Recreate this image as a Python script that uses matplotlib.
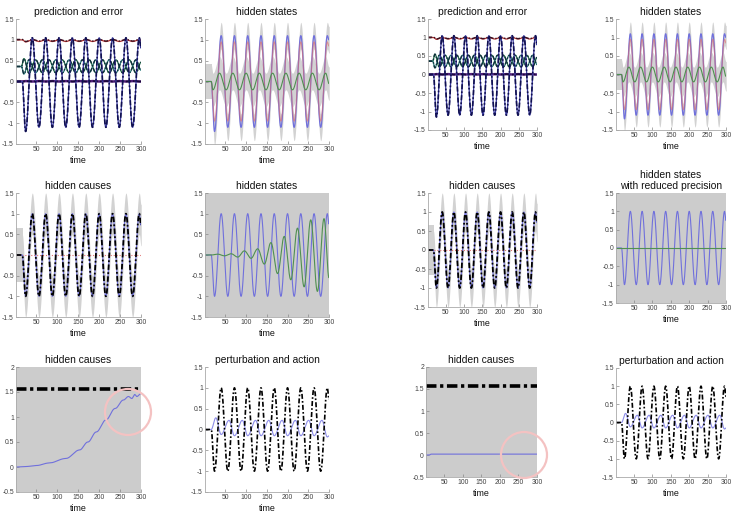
import numpy as np
import matplotlib
matplotlib.use("Agg")
import matplotlib.pyplot as plt
from matplotlib.patches import Ellipse

plt.rcParams['font.family'] = ['Liberation Sans', 'DejaVu Sans']

# ---------------- data ----------------
time_ticks = [50, 100, 150, 200, 250, 300]
y_ticks_osc = [-1.5, -1, -0.5, 0, 0.5, 1, 1.5]
y_ticks_cause = [-0.5, 0, 0.5, 1, 1.5, 2]

# key times (onset, extrema, end) of the main oscillation
ext_t = [1, 16, 24, 40, 56, 72, 88, 104, 120, 136, 152, 168, 184, 200, 216, 232, 248, 264, 280, 296, 300]
# prediction (sensory) big channel, left and right simulation
pred_big_a = [0, 0, -1.2, 1.05, -1.1, 1.05, -1.1, 1.05, -1.1, 1.05, -1.1, 1.05, -1.1, 1.05, -1.1, 1.05, -1.1, 1.05, -1.1, 1.05, 0.8]
pred_big_b = [0, 0, -1.15, 1.05, -1.1, 1.05, -1.1, 1.05, -1.1, 1.05, -1.1, 1.05, -1.1, 1.05, -1.1, 1.05, -1.1, 1.05, -1.1, 1.05, 0.8]
pred_top = [1.0, 1.0, 0.95, 1.0, 0.96, 1.0, 0.96, 1.0, 0.96, 1.0, 0.96, 1.0, 0.96, 1.0, 0.96, 1.0, 0.96, 1.0, 0.96, 1.0, 0.98]
pred_zero = [0.0, 0.0, 0.01, 0.0, 0.01, 0.0, 0.01, 0.0, 0.01, 0.0, 0.01, 0.0, 0.01, 0.0, 0.01, 0.0, 0.01, 0.0, 0.01, 0.0, 0.0]
# crossing pair around 0.36
pair_t = [1, 14, 20, 32, 48, 64, 80, 96, 112, 128, 144, 160, 176, 192, 208, 224, 240, 256, 272, 288, 300]
pair_up = [0.36, 0.36, 0.55, 0.2, 0.52, 0.21, 0.52, 0.21, 0.52, 0.21, 0.52, 0.21, 0.52, 0.21, 0.52, 0.21, 0.52, 0.21, 0.52, 0.21, 0.46]
pair_dn = [0.36, 0.36, 0.18, 0.52, 0.21, 0.52, 0.21, 0.52, 0.21, 0.52, 0.21, 0.52, 0.21, 0.52, 0.21, 0.52, 0.21, 0.52, 0.21, 0.52, 0.27]

# hidden states (top row)
state_pos = [0, 0, -1.2, 1.1, -1.1, 1.1, -1.1, 1.1, -1.1, 1.1, -1.1, 1.1, -1.1, 1.1, -1.1, 1.1, -1.1, 1.1, -1.1, 1.1, 1.0]
state_est = [0, 0, -0.95, 0.95, -0.95, 0.95, -0.95, 0.95, -0.95, 0.95, -0.95, 0.95, -0.95, 0.95, -0.95, 0.95, -0.95, 0.95, -0.95, 0.95, 0.85]
vel_t = [1, 16, 20, 36, 52, 68, 84, 100, 116, 132, 148, 164, 180, 196, 212, 228, 244, 260, 276, 292, 300]
state_vel = [0, 0, -0.2, 0.2, -0.2, 0.2, -0.2, 0.2, -0.2, 0.2, -0.2, 0.2, -0.2, 0.2, -0.2, 0.2, -0.2, 0.2, -0.2, 0.2, -0.05]
ci_pos = 0.32
ci_vel = 0.4
ci_onset = 0.42

# hidden causes (middle row)
cause_true = [0, 0, -1, 1, -1, 1, -1, 1, -1, 1, -1, 1, -1, 1, -1, 1, -1, 1, -1, 1, 0.72]
ci_cause = 0.5
ci_cause_onset = 0.65

# hidden states, middle row (true state and growing second state)
true_pos = [0, 0, -1, 1, -1, 1, -1, 1, -1, 1, -1, 1, -1, 1, -1, 1, -1, 1, -1, 1, 0.75]
grow_t = [1, 16, 32, 48, 64, 80, 96, 112, 128, 144, 160, 176, 192, 208, 224, 240, 256, 272, 288, 300]
grow_val = [0, 0, 0.02, -0.02, 0.03, -0.05, 0.1, -0.08, 0.15, -0.22, 0.3, -0.45, 0.45, -0.6, 0.65, -0.77, 0.85, -0.88, 0.88, -0.55]
flat_t = [1, 300]
flat_val = [0, 0]

# learned parameter (bottom row)
param_true = 1.57
learn_t = [1, 25, 50, 80, 120, 153, 173, 193, 216, 238, 258, 270, 278, 285, 290, 300]
learn_val = [0.0, 0.01, 0.03, 0.08, 0.17, 0.34, 0.5, 0.7, 0.94, 1.17, 1.34, 1.41, 1.37, 1.45, 1.41, 1.47]
learn_flat_t = [1, 10, 15, 300]
learn_flat_val = [0.0, 0.0, 0.02, 0.02]

# action
act_t = [1, 16, 27, 40, 59, 72, 91, 104, 123, 136, 155, 168, 187, 200, 219, 232, 251, 264, 283, 296, 300]
action_a = [0, 0, 0.28, -0.12, 0.22, -0.15, 0.22, -0.15, 0.22, -0.15, 0.22, -0.15, 0.22, -0.15, 0.22, -0.15, 0.22, -0.15, 0.22, -0.18, -0.15]
action_b = [0, 0, 0.25, -0.12, 0.2, -0.15, 0.2, -0.15, 0.2, -0.15, 0.2, -0.15, 0.2, -0.15, 0.2, -0.15, 0.2, -0.15, 0.2, -0.18, -0.15]

# ---------------- helpers ----------------
t = np.arange(1, 301, 0.5)


def path(tk, yk):
    """Smooth path through the read key points (half-cosine between them)."""
    tk = np.asarray(tk, float)
    yk = np.asarray(yk, float)
    i = np.clip(np.searchsorted(tk, t, side='right') - 1, 0, len(tk) - 2)
    s = (t - tk[i]) / (tk[i + 1] - tk[i])
    w = (1 - np.cos(np.pi * s)) / 2
    return yk[i] + (yk[i + 1] - yk[i]) * w


W, H = 734, 515
fig = plt.figure(figsize=(W / 100, H / 100), dpi=100)
fig.patch.set_facecolor('white')

GRAY = '#cccccc'
BAND = '#d2d2d2'
BLUE = '#7070dc'
GREEN = '#4f9050'
RED = '#e06a6a'
DD = (0, (3, 1.3, 1, 1.3))
DD_THICK = (0, (2.9, 1.0, 0.9, 1.0))


def make_ax(l, tp, r, b, title, gray=False, ylim=(-1.5, 1.5), yt=None):
    ax = fig.add_axes([l / W, 1 - b / H, (r - l) / W, (b - tp) / H])
    ax.set_xlim(1, 300)
    ax.set_ylim(*ylim)
    ax.set_xticks(time_ticks)
    ax.set_xticklabels([str(v) for v in time_ticks])
    yt = y_ticks_osc if yt is None else yt
    ax.set_yticks(yt)
    ax.set_yticklabels([('%g' % v) for v in yt])
    ax.tick_params(direction='in', length=2, width=0.5, color='#888888',
                   labelcolor='#404040', labelsize=4.9, pad=1.5)
    for s in ['top', 'right']:
        ax.spines[s].set_visible(False)
    for s in ['left', 'bottom']:
        ax.spines[s].set_color('#aaaaaa')
        ax.spines[s].set_linewidth(0.6)
    ax.set_facecolor(GRAY if gray else 'white')
    ax.set_title(title, fontsize=7.4, pad=3, color='#111111', linespacing=1.05)
    ax.set_xlabel('time', fontsize=6.4, labelpad=2, color='#111111')
    return ax


def prediction_panel(ax, big):
    top = path(ext_t, pred_top)
    ax.plot(t, top, color='#b03030', lw=0.9)
    ax.plot(t, top + 0.01, color='#3a1020', lw=1.0, ls=DD)
    up = path(pair_t, pair_up)
    dn = path(pair_t, pair_dn)
    ax.plot(t, up, color='#1f6a45', lw=0.9)
    ax.plot(t, dn, color='#2a7a7a', lw=0.9)
    ax.plot(t, up, color='#0f2f3a', lw=1.0, ls=DD)
    ax.plot(t, dn, color='#0f2f3a', lw=1.0, ls=DD)
    z = path(ext_t, pred_zero)
    ax.plot(t, z, color='#50207a', lw=1.8)
    ax.plot(t, z, color='#1a0a3a', lw=1.2, ls=DD)
    b = path(ext_t, big)
    ax.plot(t, b, color='#3a3aa0', lw=0.9)
    ax.plot(t, b, color='#101050', lw=1.2, ls=DD)


def states_panel(ax):
    pos = path(ext_t, state_pos)
    vel = path(vel_t, state_vel)
    pre = t <= 17
    ax.fill_between(t[pre], -ci_onset, ci_onset, color=BAND, lw=0)
    post = t >= 16
    ax.fill_between(t[post], pos[post] - ci_pos, pos[post] + ci_pos, color=BAND, lw=0)
    ax.fill_between(t[post], vel[post] - ci_vel, vel[post] + ci_vel, color=BAND, lw=0)
    ax.plot(t, pos, color=BLUE, lw=0.9)
    ax.plot(t, path(ext_t, state_est), color=RED, lw=0.8, alpha=0.6)
    ax.plot(t, vel, color=GREEN, lw=0.8)


def causes_panel(ax):
    c = path(ext_t, cause_true)
    pre = t <= 17
    ax.fill_between(t[pre], -ci_cause_onset, ci_cause_onset, color=BAND, lw=0)
    post = t >= 16
    ax.fill_between(t[post], c[post] - ci_cause, c[post] + ci_cause, color=BAND, lw=0)
    ax.plot(t, path(flat_t, flat_val), color='#e07070', lw=0.8, ls=':')
    ax.plot(t, c, color=BLUE, lw=0.8)
    ax.plot(t, c, color='black', lw=1.3, ls=DD)


# ---------------- row 1 ----------------
ax1 = make_ax(16, 19, 141, 144, 'prediction and error')
prediction_panel(ax1, pred_big_a)
ax2 = make_ax(205, 19, 329, 144, 'hidden states')
states_panel(ax2)
ax3 = make_ax(428, 19, 537, 130, 'prediction and error')
prediction_panel(ax3, pred_big_b)
ax4 = make_ax(616, 19, 726, 130, 'hidden states')
states_panel(ax4)

# ---------------- row 2 ----------------
ax5 = make_ax(16, 193, 141, 317, 'hidden causes')
causes_panel(ax5)
ax6 = make_ax(205, 193, 329, 317, 'hidden states', gray=True)
ax6.plot(t, path(ext_t, true_pos), color=BLUE, lw=0.8)
ax6.plot(t, path(grow_t, grow_val), color=GREEN, lw=0.8)
ax7 = make_ax(428, 193, 537, 307, 'hidden causes')
causes_panel(ax7)
ax8 = make_ax(616, 193, 726, 303, 'hidden states\nwith reduced precision', gray=True)
ax8.plot(t, path(ext_t, true_pos), color=BLUE, lw=0.8)
ax8.plot(t, path(flat_t, flat_val), color=GREEN, lw=0.8)

# ---------------- row 3 ----------------
ax9 = make_ax(16, 367, 141, 492, 'hidden causes', gray=True, ylim=(-0.5, 2), yt=y_ticks_cause)
ax9.plot(t, path(learn_t, learn_val), color=BLUE, lw=0.8)
ax9.plot([1, 300], [param_true, param_true], color='black', lw=2.6, ls=DD_THICK)
ax10 = make_ax(205, 367, 329, 492, 'perturbation and action')
ax10.plot(t, path(act_t, action_a), color='#8c8ce8', lw=0.8)
ax10.plot(t, path(ext_t, cause_true), color='black', lw=1.2, ls=DD)
ax11 = make_ax(426, 367, 537, 477, 'hidden causes', gray=True, ylim=(-0.5, 2), yt=y_ticks_cause)
ax11.plot(t, path(learn_flat_t, learn_flat_val), color=BLUE, lw=0.8)
ax11.plot([1, 300], [param_true, param_true], color='black', lw=2.6, ls=DD_THICK)
ax12 = make_ax(616, 368, 726, 477, 'perturbation and action')
ax12.plot(t, path(act_t, action_b), color='#8c8ce8', lw=0.8)
ax12.plot(t, path(ext_t, cause_true), color='black', lw=1.2, ls=DD)

# pink highlight circles
for cx, cy, r in [(128, 412, 23), (524, 455, 23)]:
    e = Ellipse((cx / W, 1 - cy / H), 2 * r / W, 2 * r / H, transform=fig.transFigure,
                fill=False, edgecolor='#f4c2c2', lw=1.6, zorder=10)
    fig.patches.append(e)

fig.savefig('out.png', dpi=100)
